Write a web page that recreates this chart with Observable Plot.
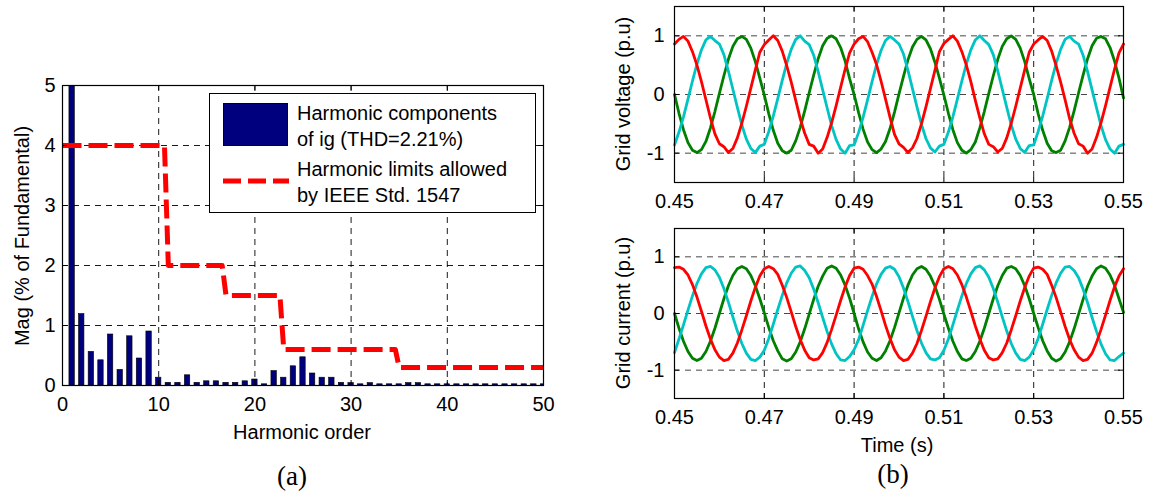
<!DOCTYPE html>
<html>
<head>
<meta charset="utf-8">
<script src="https://cdn.jsdelivr.net/npm/d3@7"></script>
<script src="https://cdn.jsdelivr.net/npm/@observablehq/plot@0.6"></script>
<style>
  html, body { margin: 0; padding: 0; background: #fff; }
  #fig { position: relative; width: 1150px; height: 492px; background: #fff; overflow: hidden;
         font-family: "Liberation Sans", Arial, Helvetica, sans-serif; color: #000; }
  .panel { position: absolute; }
  .lbl { position: absolute; white-space: nowrap; font-size: 20px; transform: translate(-50%, -50%); }
  .rot { transform: translate(-50%, -50%) rotate(-90deg); }
  .cap { font-family: "Liberation Serif", "Times New Roman", serif; font-size: 27px; }
  #legend { position: absolute; left: 209px; top: 93px; width: 327px; height: 120px; box-sizing: border-box;
            border: 1px solid #000; background: #fff; font-size: 20px; }
  #legend .txt { position: absolute; left: 87px; line-height: 26px; white-space: nowrap; }
</style>
</head>
<body>
<div id="fig"></div>
<script>
// ---------- (a) harmonic spectrum of the grid current ----------
const harmonicOrder = d3.range(1, 51);
const harmonicMag = [100, 1.19, 0.56, 0.42, 0.85, 0.26, 0.82, 0.45, 0.90, 0.13,
  0.045, 0.045, 0.17, 0.045, 0.07, 0.07, 0.045, 0.045, 0.07, 0.10,
  0.02, 0.24, 0.13, 0.32, 0.47, 0.20, 0.13, 0.13, 0.045, 0.04,
  0.02, 0.04, 0.02, 0.02, 0.02, 0.04, 0.04, 0.02, 0.02, 0.02,
  0.02, 0.02, 0.02, 0.02, 0.02, 0.02, 0.02, 0.02, 0.02, 0.02];
// IEEE Std. 1547 current distortion limits (% of fundamental)
const limitOrder = [0, 10.6, 11, 16.6, 17, 22.6, 23, 34.6, 35, 50];
const limitPct   = [4, 4, 2, 2, 1.5, 1.5, 0.6, 0.6, 0.3, 0.3];
const harmTicks = [0, 10, 20, 30, 40, 50];
const magTicks = [0, 1, 2, 3, 4, 5];

// ---------- (b) three-phase grid waveforms, sampled every 1 ms ----------
const timeStart = 0.45, timeStep = 0.001;
const voltageA = [
  0.86, 0.94, 0.99, 0.91, 0.73, 0.50, 0.22, -0.09, -0.40, -0.67, -0.84, -0.89, -0.99, -0.92, -0.74, -0.49, -0.20, 0.11, 0.42, 0.72,
  0.85, 0.93, 1.00, 0.92, 0.74, 0.49, 0.21, -0.10, -0.41, -0.66, -0.85, -0.88, -1.00, -0.93, -0.73, -0.48, -0.19, 0.12, 0.43, 0.71,
  0.86, 0.95, 0.99, 0.90, 0.72, 0.51, 0.23, -0.08, -0.39, -0.68, -0.84, -0.90, -0.99, -0.91, -0.75, -0.50, -0.21, 0.10, 0.41, 0.73,
  0.87, 0.94, 1.00, 0.91, 0.73, 0.50, 0.22, -0.10, -0.40, -0.67, -0.85, -0.89, -0.98, -0.92, -0.74, -0.49, -0.20, 0.11, 0.42, 0.72,
  0.86, 0.93, 0.99, 0.92, 0.74, 0.49, 0.21, -0.09, -0.41, -0.66, -0.84, -0.88, -1.00, -0.93, -0.73, -0.48, -0.19, 0.12, 0.43, 0.71,
  0.86];
const voltageB = [
  -0.86, -0.64, -0.38, -0.08, 0.23, 0.52, 0.76, 0.93, 0.99, 0.92, 0.86, 0.68, 0.40, 0.09, -0.22, -0.52, -0.76, -0.92, -0.99, -0.88,
  -0.85, -0.63, -0.37, -0.07, 0.24, 0.53, 0.77, 0.94, 1.00, 0.91, 0.85, 0.67, 0.39, 0.08, -0.23, -0.53, -0.77, -0.93, -1.00, -0.87,
  -0.86, -0.65, -0.39, -0.09, 0.22, 0.51, 0.75, 0.92, 0.99, 0.93, 0.86, 0.69, 0.41, 0.10, -0.21, -0.51, -0.75, -0.91, -0.98, -0.88,
  -0.85, -0.64, -0.38, -0.08, 0.23, 0.52, 0.76, 0.93, 1.00, 0.92, 0.85, 0.68, 0.40, 0.09, -0.22, -0.52, -0.76, -0.92, -0.99, -0.87,
  -0.86, -0.63, -0.37, -0.07, 0.24, 0.53, 0.77, 0.94, 0.99, 0.91, 0.86, 0.67, 0.39, 0.08, -0.23, -0.53, -0.77, -0.93, -1.00, -0.88,
  -0.85];
const voltageC = [
  0.00, -0.32, -0.60, -0.82, -0.95, -0.99, -0.94, -0.80, -0.57, -0.29, 0.02, 0.32, 0.60, 0.82, 0.95, 0.99, 0.94, 0.79, 0.56, 0.28,
  -0.01, -0.33, -0.61, -0.83, -0.96, -1.00, -0.95, -0.79, -0.56, -0.28, 0.03, 0.33, 0.61, 0.83, 0.96, 1.00, 0.95, 0.80, 0.57, 0.27,
  0.00, -0.31, -0.59, -0.81, -0.94, -0.99, -0.93, -0.80, -0.58, -0.30, 0.01, 0.31, 0.59, 0.81, 0.94, 0.99, 0.93, 0.78, 0.55, 0.28,
  -0.01, -0.32, -0.60, -0.82, -0.95, -1.00, -0.94, -0.81, -0.57, -0.29, 0.02, 0.32, 0.60, 0.82, 0.95, 1.00, 0.94, 0.79, 0.56, 0.27,
  0.00, -0.33, -0.61, -0.83, -0.96, -0.99, -0.95, -0.79, -0.56, -0.28, 0.03, 0.33, 0.61, 0.83, 0.96, 0.99, 0.95, 0.80, 0.57, 0.28,
  -0.06];
const currentA = [
  0.81, 0.82, 0.78, 0.68, 0.51, 0.29, 0.04, -0.22, -0.45, -0.64, -0.77, -0.83, -0.81, -0.70, -0.52, -0.29, -0.04, 0.22, 0.46, 0.66,
  0.79, 0.83, 0.79, 0.69, 0.50, 0.28, 0.03, -0.23, -0.46, -0.65, -0.78, -0.82, -0.80, -0.69, -0.51, -0.28, -0.03, 0.23, 0.47, 0.67,
  0.80, 0.82, 0.78, 0.67, 0.52, 0.30, 0.05, -0.21, -0.44, -0.64, -0.77, -0.83, -0.81, -0.70, -0.53, -0.30, -0.05, 0.21, 0.45, 0.65,
  0.79, 0.83, 0.79, 0.68, 0.51, 0.29, 0.04, -0.22, -0.45, -0.65, -0.78, -0.82, -0.80, -0.69, -0.52, -0.29, -0.04, 0.22, 0.46, 0.66,
  0.80, 0.82, 0.78, 0.69, 0.50, 0.28, 0.03, -0.23, -0.46, -0.64, -0.77, -0.83, -0.81, -0.70, -0.51, -0.28, -0.03, 0.23, 0.47, 0.66,
  0.79];
const currentB = [
  -0.69, -0.45, -0.20, 0.06, 0.31, 0.53, 0.70, 0.81, 0.83, 0.77, 0.64, 0.44, 0.20, -0.06, -0.31, -0.53, -0.70, -0.81, -0.83, -0.77,
  -0.65, -0.44, -0.19, 0.07, 0.32, 0.54, 0.71, 0.82, 0.84, 0.76, 0.63, 0.43, 0.19, -0.07, -0.32, -0.54, -0.71, -0.82, -0.83, -0.76,
  -0.64, -0.46, -0.21, 0.05, 0.30, 0.52, 0.69, 0.80, 0.83, 0.78, 0.65, 0.45, 0.21, -0.05, -0.30, -0.52, -0.69, -0.80, -0.82, -0.78,
  -0.65, -0.45, -0.20, 0.06, 0.31, 0.53, 0.70, 0.81, 0.84, 0.77, 0.64, 0.44, 0.20, -0.06, -0.31, -0.53, -0.70, -0.81, -0.83, -0.77,
  -0.64, -0.44, -0.19, 0.07, 0.32, 0.54, 0.71, 0.82, 0.83, 0.76, 0.63, 0.43, 0.19, -0.07, -0.32, -0.54, -0.71, -0.82, -0.83, -0.76,
  -0.70];
const currentC = [
  0.00, -0.26, -0.49, -0.67, -0.79, -0.83, -0.79, -0.67, -0.49, -0.26, 0.00, 0.26, 0.49, 0.67, 0.79, 0.83, 0.79, 0.67, 0.49, 0.26,
  0.01, -0.25, -0.48, -0.66, -0.80, -0.84, -0.80, -0.68, -0.50, -0.27, -0.01, 0.25, 0.48, 0.66, 0.80, 0.84, 0.80, 0.68, 0.50, 0.27,
  0.00, -0.27, -0.50, -0.68, -0.79, -0.83, -0.78, -0.66, -0.48, -0.25, 0.01, 0.27, 0.50, 0.68, 0.79, 0.83, 0.78, 0.66, 0.48, 0.25,
  -0.01, -0.26, -0.49, -0.67, -0.80, -0.83, -0.79, -0.67, -0.49, -0.26, 0.00, 0.26, 0.49, 0.67, 0.80, 0.83, 0.79, 0.67, 0.49, 0.26,
  0.00, -0.25, -0.48, -0.66, -0.79, -0.84, -0.80, -0.68, -0.50, -0.27, -0.01, 0.25, 0.48, 0.66, 0.79, 0.84, 0.80, 0.68, 0.50, 0.26,
  0.02];
const timeTicks = [0.45, 0.47, 0.49, 0.51, 0.53, 0.55];
const puTicks = [-1, 0, 1];
const phaseColors = {A: "#ff0000", B: "#00c4c4", C: "#008000"};

const fig = document.getElementById("fig");
const fontStyle = {fontFamily: "'Liberation Sans', Arial, Helvetica, sans-serif", fontSize: "20px", color: "#000", background: "transparent", overflow: "visible"};
const gridDash = "6,5";
const TICK = 5; // inward tick length, px
const plainNumber = d => String(d);

function place(node, left, top) {
  node.classList.add("panel");
  node.style.left = left + "px";
  node.style.top = top + "px";
  fig.appendChild(node);
}

// Inward ticks on all four sides of a frame, MATLAB style
function boxTicks(xt, yt, innerW, innerH) {
  return [
    Plot.tickX(xt, {x: d => d, insetTop: innerH - TICK, stroke: "#000"}),
    Plot.tickX(xt, {x: d => d, insetBottom: innerH - TICK, stroke: "#000"}),
    Plot.tickY(yt, {y: d => d, insetRight: innerW - TICK, stroke: "#000"}),
    Plot.tickY(yt, {y: d => d, insetLeft: innerW - TICK, stroke: "#000"})
  ];
}

// ---- panel (a)
{
  const W = 580, H = 450, mL = 62, mR = 37, mT = 85, mB = 65;
  const bars = harmonicOrder.map((h, i) => ({h, mag: harmonicMag[i]}));
  const limits = limitOrder.map((h, i) => ({h, pct: limitPct[i]}));
  const chart = Plot.plot({
    width: W, height: H, marginLeft: mL, marginRight: mR, marginTop: mT, marginBottom: mB,
    style: fontStyle,
    x: {domain: [0, 50], ticks: harmTicks, tickFormat: plainNumber, tickSize: 0, tickPadding: 11, label: null},
    y: {domain: [0, 5], ticks: magTicks, tickFormat: plainNumber, tickSize: 0, tickPadding: 7, label: null},
    marks: [
      Plot.ruleX(harmTicks.slice(1, -1), {x: d => d, stroke: "#000", strokeWidth: 0.9, strokeDasharray: gridDash}),
      Plot.ruleY(magTicks.slice(1, -1), {y: d => d, stroke: "#000", strokeWidth: 0.9, strokeDasharray: gridDash}),
      Plot.rectY(bars, {x1: d => d.h - 0.28, x2: d => d.h + 0.28, y: "mag", fill: "#00007f", stroke: "#000", strokeWidth: 0.6, inset: 0, clip: true}),
      Plot.line(limits, {x: "h", y: "pct", stroke: "#ff0000", strokeWidth: 5, strokeDasharray: "19,7", strokeLinecap: "butt", strokeLinejoin: "round"}),
      ...boxTicks(harmTicks, magTicks, W - mL - mR, H - mT - mB),
      Plot.frame({stroke: "#000", strokeWidth: 1.2})
    ]
  });
  place(chart, 0, 0);
}

// ---- panel (b): voltage and current subplots
function wavePanel(series, opts) {
  const rows = [];
  for (const [phase, values] of series) {
    values.forEach((v, k) => rows.push({t: timeStart + k * timeStep, v, phase}));
  }
  const W = 560, mL = 84, mR = 27;
  return Plot.plot({
    width: W, height: opts.height, marginLeft: mL, marginRight: mR, marginTop: opts.mT, marginBottom: opts.mB,
    style: fontStyle,
    x: {domain: [0.45, 0.55], ticks: timeTicks, tickFormat: d3.format(".2f"), tickSize: 0, tickPadding: 11, label: null},
    y: {domain: [-1.5, 1.5], ticks: puTicks, tickFormat: plainNumber, tickSize: 0, tickPadding: 10, label: null},
    marks: [
      Plot.ruleX(timeTicks.slice(1, -1), {x: d => d, stroke: "#000", strokeWidth: 0.9, strokeDasharray: gridDash}),
      Plot.ruleY(puTicks, {y: d => d, stroke: "#333", strokeWidth: 0.9, strokeDasharray: gridDash}),
      ...["C", "B", "A"].map(p => Plot.line(rows.filter(r => r.phase === p), {x: "t", y: "v", stroke: phaseColors[p], strokeWidth: 2.8, strokeLinejoin: "round"})),
      ...boxTicks(timeTicks, puTicks, W - mL - mR, opts.height - opts.mT - opts.mB),
      Plot.frame({stroke: "#000", strokeWidth: 1.2})
    ]
  });
}

place(wavePanel([["A", voltageA], ["B", voltageB], ["C", voltageC]], {height: 215, mT: 6, mB: 33}), 590, 0);
place(wavePanel([["A", currentA], ["B", currentB], ["C", currentC]], {height: 235, mT: 13, mB: 52}), 590, 215);

// ---- text: axis titles, captions, legend
function label(text, x, y, cls) {
  const d = document.createElement("div");
  d.className = "lbl " + (cls || "");
  d.style.left = x + "px";
  d.style.top = y + "px";
  d.textContent = text;
  fig.appendChild(d);
}
label("Mag (% of Fundamental)", 22, 236, "rot");
label("Harmonic order", 302, 432);
label("(a)", 292, 476, "cap");
label("Grid voltage (p.u)", 623, 94, "rot");
label("Grid current (p.u)", 623, 313, "rot");
label("Time (s)", 897, 445);
label("(b)", 893, 474, "cap");

const legend = document.createElement("div");
legend.id = "legend";
legend.innerHTML = `
  <div style="position:absolute;left:13px;top:9px;width:65px;height:43px;box-sizing:border-box;background:#00007f;border:1px solid #000"></div>
  <svg style="position:absolute;left:13px;top:83px" width="66" height="8"><line x1="0" x2="66" y1="4" y2="4" stroke="#ff0000" stroke-width="5" stroke-dasharray="18,7"/></svg>
  <div class="txt" style="top:6px">Harmonic components<br>of ig (THD=2.21%)</div>
  <div class="txt" style="top:62px">Harmonic limits allowed<br>by IEEE Std. 1547</div>`;
fig.appendChild(legend);
</script>
</body>
</html>
